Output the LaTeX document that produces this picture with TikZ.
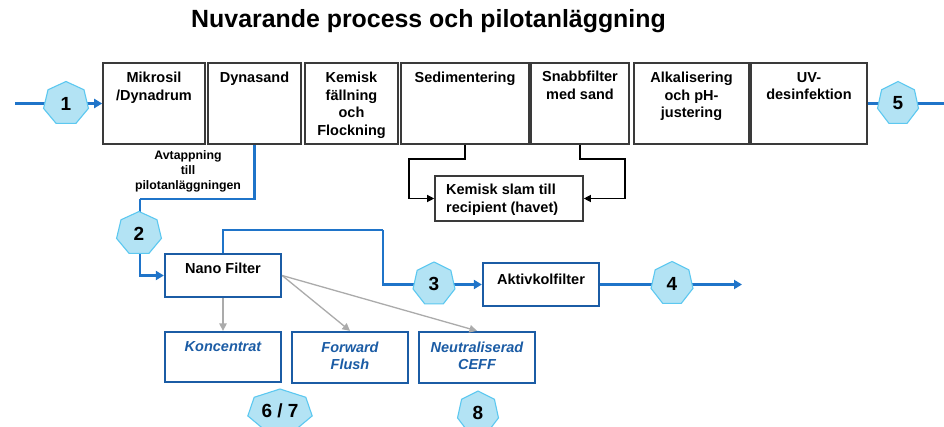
\documentclass[tikz,border=0pt]{standalone}
\usepackage{fontspec}
\setmainfont{Liberation Sans}
\usetikzlibrary{arrows.meta}
\definecolor{hfill}{HTML}{B3E3F4}
\definecolor{hline}{HTML}{5CC8F0}
\definecolor{flow}{HTML}{1F74C9}
\definecolor{dblue}{HTML}{1B5CA5}
\definecolor{boxline}{HTML}{3A3A3A}
\definecolor{grayarrow}{HTML}{ABABAB}
\newcommand\myhept[6]{%
  \draw[hept] (#2,#3) +(90:#4pt and #5pt) -- +(141.43:#4pt and #5pt) -- +(192.86:#4pt and #5pt) -- +(244.29:#4pt and #5pt) -- +(295.71:#4pt and #5pt) -- +(347.14:#4pt and #5pt) -- +(38.57:#4pt and #5pt) -- cycle;
  \node[hepttext] (#1) at (#2,#3) {#6};}
\tikzset{
  topbox/.style={draw=boxline, line width=1.6pt, fill=white, inner sep=0pt, minimum height=81pt},
  bluebox/.style={draw=dblue, line width=2.3pt, fill=white, inner sep=0pt},
  slambox/.style={draw=boxline, line width=1.6pt, fill=white, inner sep=0pt},
  boxtext/.style={inner sep=0pt, anchor=north, align=center, font=\fontsize{14.5}{17.6}\selectfont\bfseries},
  itext/.style={inner sep=0pt, anchor=north, align=center, text=dblue, font=\fontsize{14.5}{17.6}\selectfont\bfseries\itshape},
  smalltext/.style={inner sep=0pt, anchor=north, align=center, font=\fontsize{12.3}{15}\selectfont\bfseries},
  flowline/.style={draw=flow, line width=2.9pt},
  flowarrow/.style={flowline, -{Triangle[length=8pt,width=9pt]}},
  blackarrow/.style={draw=black, line width=1.2pt, -{Triangle[length=7pt,width=7pt]}},
  grayline/.style={draw=grayarrow, line width=1.3pt, -{Triangle[length=7.5pt,width=7.5pt]}},
  hept/.style={draw=hline, fill=hfill, line width=1.1pt},
  hepttext/.style={inner sep=0pt, font=\fontsize{19}{22}\selectfont\bfseries},
}
\begin{document}
\begin{tikzpicture}[x=1pt,y=-1pt]
\useasboundingbox[fill=white] (0,0) rectangle (944,427);
% title
\node[anchor=base, inner sep=0pt, font=\fontsize{24.9}{28}\selectfont\bfseries] (title) at (428.5,27.5) {Nuvarande process och pilotanläggning};
% top row boxes
\node[topbox, minimum width=102pt] (mik) at (154,103.5) {};
\node[topbox, minimum width=93pt] (dyn) at (254.5,103.5) {};
\node[topbox, minimum width=93pt] (kem) at (351.5,103.5) {};
\node[topbox, minimum width=128pt] (sed) at (465,103.5) {};
\node[topbox, minimum width=98pt] (snb) at (580,103.5) {};
\node[topbox, minimum width=115pt] (alk) at (691.5,103.5) {};
\node[topbox, minimum width=116pt] (uv) at (809,103.5) {};
\node[boxtext] (mikt) at (154,72) {Mikrosil\\/Dynadrum};
\node[boxtext] (dynt) at (254.5,72) {Dynasand};
\node[boxtext] (kemt) at (351.5,72) {Kemisk\\fällning\\och\\Flockning};
\node[boxtext] (sedt) at (465,72) {Sedimentering};
\node[boxtext] (snbt) at (580,71) {Snabbfilter\\med sand};
\node[boxtext] (alkt) at (691.5,72) {Alkalisering\\och pH-\\justering};
\node[boxtext] (uvt) at (809,72) {UV-\\desinfektion};
% slam box
\node[slambox, minimum width=148pt, minimum height=45pt] (slam) at (509,198.5) {};
\node[boxtext, anchor=north west, align=left] (slamt) at (446,184) {Kemisk slam till\\recipient (havet)};
% Avtappning text
\node[smalltext] (avt) at (188,150) {Avtappning\\till\\pilotanläggningen};
% nano and lower boxes
\node[bluebox, minimum width=116pt, minimum height=43pt] (nano) at (223,275.5) {};
\node[boxtext] (nanot) at (223,263) {Nano Filter};
\node[bluebox, minimum width=116pt, minimum height=43pt] (akt) at (541,284.5) {};
\node[boxtext] (aktt) at (541,273.5) {Aktivkolfilter};
\node[bluebox, minimum width=116pt, minimum height=50pt] (kon) at (223,357) {};
\node[bluebox, minimum width=116pt, minimum height=51pt] (ff) at (350,357.5) {};
\node[bluebox, minimum width=116pt, minimum height=51pt] (neu) at (477,357.5) {};
\node[itext] (kont) at (223,341.5) {Koncentrat};
\node[itext] (fft) at (350,341.5) {Forward\\Flush};
\node[itext] (neut) at (477,341.5) {Neutraliserad\\CEFF};
% coordinates
\coordinate (in1) at (15,103.5);
\coordinate (out5) at (944,103.5);
\coordinate (c2) at (140,199);
\coordinate (c3) at (383,230);
\coordinate (out4) at (742,284.5);
\coordinate (cs1) at (409,159);
\coordinate (cs2) at (625,159);
% flow lines
\draw[flowarrow] (in1) -- (mik.west);
\draw[flowline] (uv.east) -- (out5);
\draw[flowline] (dyn.south) |- (c2);
\draw[flowarrow] (c2) |- (nano.west);
\draw[flowline] (nano.north) |- (c3);
\draw[flowarrow] (c3) |- (akt.west);
\draw[flowarrow] (akt.east) -- (out4);
% slam arrows
\draw[blackarrow] (sed.south) |- (cs1) |- (slam.west);
\draw[blackarrow] (snb.south) |- (cs2) |- (slam.east);
% gray arrows
\draw[grayline] (nano.south) -- (kon.north);
\draw[grayline] (nano.east) -- (ff.north);
\draw[grayline] (nano.east) -- (neu.north);
% heptagons
\myhept{h1}{66}{103.5}{23}{22}{1}
\myhept{h2}{139}{233.5}{23}{22}{2}
\myhept{h3}{434}{284}{21.5}{22}{3}
\myhept{h4}{672}{283.5}{21.5}{22}{4}
\myhept{h5}{898}{103.5}{21}{22}{5}
\myhept{h67}{280}{411}{33}{22}{6 / 7}
\myhept{h8}{478}{413}{21}{22}{8}
\end{tikzpicture}
\end{document}
